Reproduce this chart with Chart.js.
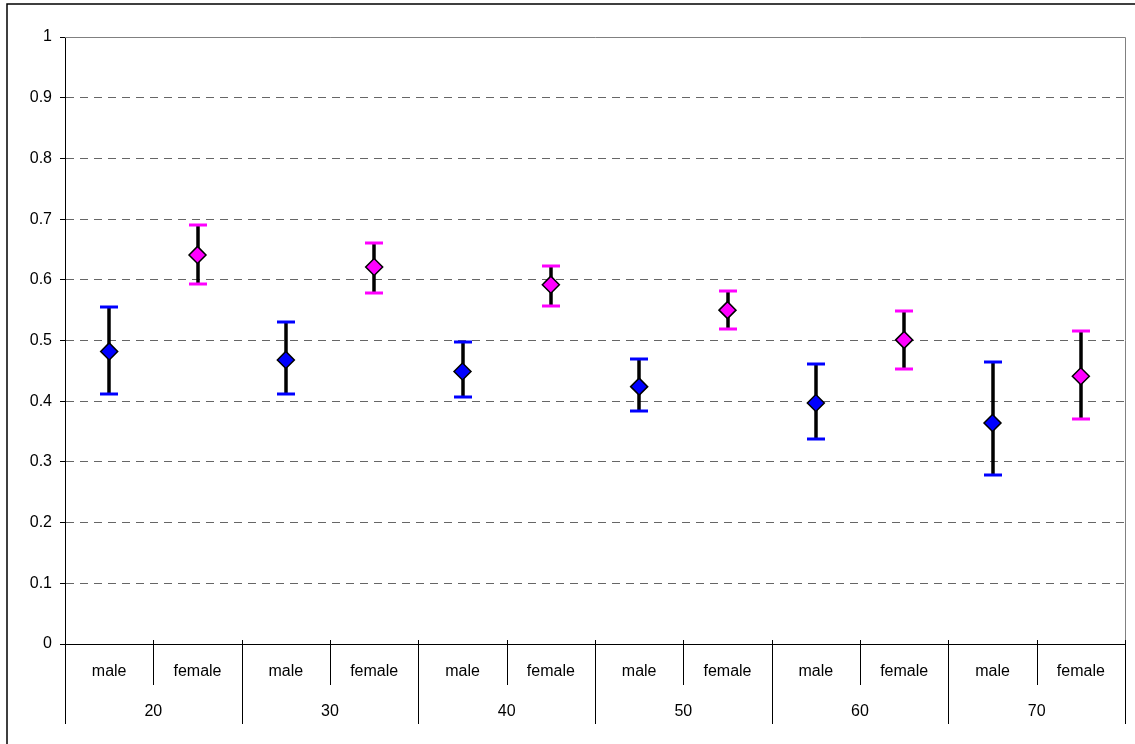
<!DOCTYPE html>
<html>
<head>
<meta charset="utf-8">
<script src="https://cdn.jsdelivr.net/npm/chart.js@4.4.0/dist/chart.umd.min.js"></script>
<style>
html, body { margin: 0; padding: 0; background: #fff; }
#wrap { width: 1135px; height: 744px; position: relative; }
</style>
</head>
<body>
<div id="wrap"><canvas id="grafico"></canvas></div>
<script>
// x axis: age group, then sex inside each group
const ageGroups = ['20', '30', '40', '50', '60', '70'];
const sexes = ['male', 'female'];

// means and interval ends
const maleMean = [0.482, 0.468, 0.449, 0.424, 0.397, 0.364];
const maleLow = [0.412, 0.412, 0.407, 0.384, 0.338, 0.278];
const maleHigh = [0.555, 0.530, 0.497, 0.469, 0.461, 0.464];

const femaleMean = [0.641, 0.621, 0.592, 0.550, 0.501, 0.441];
const femaleLow = [0.593, 0.579, 0.557, 0.519, 0.453, 0.371];
const femaleHigh = [0.691, 0.661, 0.623, 0.582, 0.549, 0.516];

const FONT = '"Liberation Sans", Arial, sans-serif';

// one category per (group, sex) pair
const labels = [];
const maleData = [];
const femaleData = [];
ageGroups.forEach((g, i) => {
    labels.push(g + ' male', g + ' female');
    maleData.push(maleMean[i], null);
    femaleData.push(null, femaleMean[i]);
});

// outer chart frame (only left/top are inside the picture)
const frame = {
    id: 'frame',
    beforeDraw(chart) {
        const ctx = chart.ctx;
        ctx.save();
        ctx.strokeStyle = '#000';
        ctx.lineWidth = 1.5;
        ctx.strokeRect(7, 4, 2000, 2000);
        ctx.restore();
    }
};

// black bars with coloured caps, under the markers
const errorBars = {
    id: 'errorBars',
    beforeDatasetsDraw(chart) {
        const { ctx, scales: { x, y } } = chart;
        const series = [
            { low: maleLow, high: maleHigh, color: '#0000ff', off: 0 },
            { low: femaleLow, high: femaleHigh, color: '#ff00ff', off: 1 }
        ];
        ctx.save();
        series.forEach(s => {
            ageGroups.forEach((g, i) => {
                const px = Math.round(x.getPixelForValue(i * 2 + s.off));
                const top = Math.round(y.getPixelForValue(s.high[i]));
                const bot = Math.round(y.getPixelForValue(s.low[i]));
                ctx.strokeStyle = '#000';
                ctx.lineWidth = 3.5;
                ctx.beginPath();
                ctx.moveTo(px, top);
                ctx.lineTo(px, bot);
                ctx.stroke();
                ctx.strokeStyle = s.color;
                ctx.lineWidth = 3;
                ctx.beginPath();
                ctx.moveTo(px - 9, top); ctx.lineTo(px + 9, top);
                ctx.moveTo(px - 9, bot); ctx.lineTo(px + 9, bot);
                ctx.stroke();
            });
        });
        ctx.restore();
    }
};

// two level category axis + grey plot border on top and right
const twoLevelAxis = {
    id: 'twoLevelAxis',
    afterDraw(chart) {
        const { ctx, chartArea: a, scales: { x } } = chart;
        const w = (a.right - a.left) / labels.length;
        ctx.save();
        ctx.strokeStyle = '#808080';
        ctx.lineWidth = 1;
        ctx.beginPath();
        ctx.moveTo(a.left, a.top + 0.5);
        ctx.lineTo(a.right + 0.5, a.top + 0.5);
        ctx.lineTo(a.right + 0.5, a.bottom);
        ctx.stroke();

        ctx.strokeStyle = '#000';
        for (let i = 0; i <= labels.length; i++) {
            const px = Math.round(a.left + i * w) + 0.5;
            const endY = i % 2 === 0 ? a.bottom + 80 : a.bottom + 41;
            ctx.beginPath();
            ctx.moveTo(px, a.bottom - 4);
            ctx.lineTo(px, endY);
            ctx.stroke();
        }
        ctx.fillStyle = '#000';
        ctx.font = '16px ' + FONT;
        ctx.textAlign = 'center';
        ctx.textBaseline = 'middle';
        labels.forEach((l, i) => {
            ctx.fillText(sexes[i % 2], x.getPixelForValue(i), a.bottom + 28);
        });
        ageGroups.forEach((g, i) => {
            ctx.fillText(g, a.left + (2 * i + 1) * w, a.bottom + 68);
        });
        ctx.restore();
    }
};

const ctx = document.getElementById('grafico').getContext('2d');

const meuGrafico = new Chart(ctx, {
    type: 'line',
    data: {
        labels: labels,
        datasets: [{
            label: 'male',
            data: maleData,
            showLine: false,
            pointStyle: 'rectRot',
            pointRadius: 8.5,
            pointBackgroundColor: '#0000ff',
            pointBorderColor: '#000',
            pointBorderWidth: 1.5
        }, {
            label: 'female',
            data: femaleData,
            showLine: false,
            pointStyle: 'rectRot',
            pointRadius: 8.5,
            pointBackgroundColor: '#ff00ff',
            pointBorderColor: '#000',
            pointBorderWidth: 1.5
        }]
    },
    options: {
        responsive: true,
        maintainAspectRatio: false,
        animation: false,
        layout: { padding: { top: 37, right: 9, left: 0, bottom: 0 } },
        plugins: {
            legend: { display: false },
            tooltip: { enabled: false }
        },
        scales: {
            x: {
                offset: true,
                grid: { display: false },
                ticks: { display: false },
                border: { display: true, color: '#000', width: 1 },
                afterFit: s => { s.height = 100; }
            },
            y: {
                min: 0,
                max: 1,
                ticks: {
                    stepSize: 0.1,
                    color: '#000',
                    padding: 8,
                    font: { family: FONT, size: 16 },
                    callback: v => String(+v.toFixed(1))
                },
                grid: {
                    color: c => (c.tick && (c.tick.value === 0 || c.tick.value === 1)) ? 'rgba(0,0,0,0)' : '#666666',
                    tickColor: '#000',
                    tickLength: 5
                },
                border: { display: true, color: '#000', width: 1, dash: [8, 6] },
                afterFit: s => { s.width = 65; }
            }
        }
    },
    plugins: [frame, errorBars, twoLevelAxis]
});
</script>
</body>
</html>
